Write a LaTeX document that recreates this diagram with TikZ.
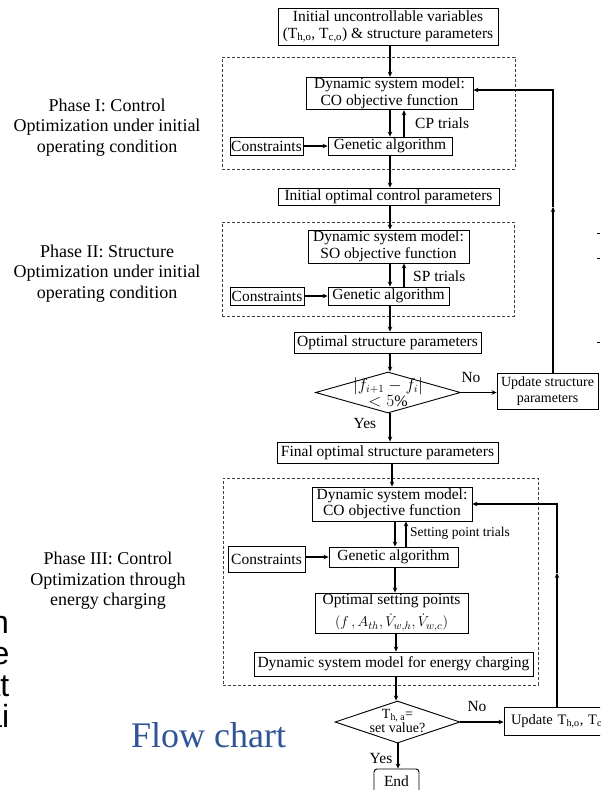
\documentclass[tikz,border=0pt]{standalone}
\usepackage{fontspec}
\setmainfont{Liberation Serif}
\newfontfamily\fragfont{Liberation Sans}
\usetikzlibrary{shapes.geometric,arrows.meta}
\definecolor{titleblue}{HTML}{2F5597}
\begin{document}
\begin{tikzpicture}[x=1pt,y=-1pt,
  box/.style={draw,line width=0.9pt,inner sep=1pt,align=center,font=\fontsize{15.5}{16.5}\selectfont},
  smallbox/.style={box,font=\fontsize{14}{15.5}\selectfont},
  phasebox/.style={draw=black!75,line width=0.8pt,dash pattern=on 3pt off 2pt,inner sep=0pt},
  arr/.style={line width=1.1pt,-{Stealth[length=5pt,width=4.5pt]}},
  lbl/.style={font=\fontsize{15.5}{16.5}\selectfont,inner sep=0pt},
  phaselbl/.style={align=center,font=\fontsize{18}{20.5}\selectfont,inner sep=0pt},
  dia/.style={draw,diamond,line width=0.9pt,inner sep=0pt},
  frag/.style={font=\fragfont\fontsize{32}{32}\selectfont,inner sep=0pt,anchor=base east}]
\useasboundingbox (0,0) rectangle (600,790);
\fill[white] (0,0) rectangle (600,790);
\clip (0,0) rectangle (600,790);

% columns
\coordinate (colA) at (390,0);
\coordinate (colU) at (404,0);
\coordinate (colB) at (395,0);
\coordinate (colC) at (406,0);
\coordinate (colD) at (398,0);
\coordinate (colR1) at (553,0);
\coordinate (colR2) at (557,0);

% phase frames
\node[phasebox,minimum width=293,minimum height=112] (ph1) at (368.5,113) {};
\node[phasebox,minimum width=292,minimum height=94] (ph2) at (368,269) {};
\node[phasebox,minimum width=315,minimum height=207] (ph3) at (380.5,581.5) {};

% phase labels
\node[phaselbl] (ph1l) at (107,127.5) {Phase I: Control\\Optimization under initial\\operating condition};
\node[phaselbl] (ph2l) at (107,273.5) {Phase II: Structure\\Optimization under initial\\operating condition};
\node[phaselbl] (ph3l) at (108,581) {Phase III: Control\\Optimization through\\energy charging};

% Phase I
\node[box,minimum width=220,minimum height=37] (init) at (388,26.5) {Initial uncontrollable variables\\(T\textsubscript{h,o}, T\textsubscript{c,o}) \& structure parameters};
\node[box,minimum width=167,minimum height=29] (dsm1) at (389.5,93.5) {Dynamic system model:\\CO objective function};
\node[box,minimum width=124,minimum height=18] (ga1) at (390,146) {Genetic algorithm};
\node[box,minimum width=73,minimum height=18] (con1) at (266.5,146) {Constraints};
\node[box,minimum width=221,minimum height=17] (iocp) at (388.5,196.5) {Initial optimal control parameters};

% Phase II
\node[box,minimum width=161,minimum height=33] (dsm2) at (388.5,246.5) {Dynamic system model:\\SO objective function};
\node[box,minimum width=121,minimum height=18] (ga2) at (388.5,296) {Genetic algorithm};
\node[box,minimum width=74,minimum height=18] (con2) at (267,296) {Constraints};
\node[box,minimum width=187,minimum height=21] (osp) at (387.5,342.5) {Optimal structure parameters};
\node[dia,minimum width=145,minimum height=41] (dia1) at (388,392.5) {};
\node[lbl,align=center,font=\fontsize{16}{16}\selectfont] (dia1t) at (388,392) {$|f_{i+1}-f_i|$\\$<5\%$};
\node[smallbox,minimum width=101,minimum height=36] (usp) at (547.5,391) {Update structure\\parameters};
\node[box,minimum width=221,minimum height=21] (fosp) at (387.5,452.5) {Final optimal structure parameters};

% Phase III
\node[box,minimum width=160,minimum height=34] (dsm3) at (392,504) {Dynamic system model:\\CO objective function};
\node[box,minimum width=129,minimum height=20] (ga3) at (393.5,557) {Genetic algorithm};
\node[box,minimum width=77,minimum height=26] (con3) at (266.5,559.5) {Constraints};
\node[box,minimum width=153,minimum height=40,font=\fontsize{15.5}{22}\selectfont] (osp3) at (391.5,613) {Optimal setting points\\$(f\,,A_{th},\dot V_{w,h},\dot V_{w,c})$};
\node[box,minimum width=279,minimum height=24] (dsmec) at (393.5,664) {Dynamic system model for energy charging};
\node[dia,minimum width=125,minimum height=42] (dia2) at (397.5,722) {};
\node[lbl,align=center,font=\fontsize{14}{14.5}\selectfont] (dia2t) at (397.5,721) {T\textsubscript{h, a}=\\set value?};
\node[box,minimum width=140,minimum height=28,text width=126,align=left,font=\fontsize{14.5}{16}\selectfont] (upt) at (574,721) {Update T\textsubscript{h,o}, T\textsubscript{c,o}};
\node[box,rounded corners=3pt,minimum width=45,minimum height=24] (endn) at (396.5,781) {End};

% labels
\node[lbl,anchor=west] (cpl) at (415,123) {CP trials};
\node[lbl,anchor=west] (spl) at (413,276) {SP trials};
\node[lbl,anchor=west,font=\fontsize{13.5}{14}\selectfont] (stl) at (410,533) {Setting point trials};
\node[lbl] (no1) at (471,377) {No};
\node[lbl] (yes1) at (365,423) {Yes};
\node[lbl] (no2) at (477,706) {No};
\node[lbl] (yes2) at (381,758) {Yes};
\node[font=\fontsize{36}{36}\selectfont,text=titleblue,inner sep=0pt,anchor=base west] (title) at (131,747) {Flow chart};

% fragments at the left edge
\node[frag] (fr1) at (9,633) {n};
\node[frag] (fr2) at (9.5,664.5) {e};
\node[frag] (fr3) at (9.5,696) {at};
\node[frag] (fr4) at (9.5,727.5) {ai};

% marks at the right edge
\draw[line width=0.8pt] (597,233) -- (600,233);
\draw[line width=0.8pt] (597,258) -- (600,258);
\draw[line width=0.8pt] (597,342) -- (600,342);

% Phase I connectors
\draw[arr] (init.south -| colA) -- (dsm1.north -| colA);
\draw[arr] (dsm1.south -| colA) -- (ga1.north -| colA);
\draw[arr] (ga1.north -| colU) -- (dsm1.south -| colU);
\draw[arr] (con1.east) -- (ga1.west);
\draw[arr] (ga1.south -| colA) -- (iocp.north -| colA);

% Phase II connectors
\draw[arr] (iocp.south -| colA) -- (dsm2.north -| colA);
\draw[arr] (dsm2.south -| colA) -- (ga2.north -| colA);
\draw[arr] (ga2.north -| colU) -- (dsm2.south -| colU);
\draw[arr] (con2.east) -- (ga2.west);
\draw[arr] (ga2.south -| colA) -- (osp.north -| colA);
\draw[arr] (osp.south -| colA) -- (dia1.north -| colA);
\draw[arr] (dia1.east) -- (usp.west |- dia1.east);
\draw[arr] (dia1.south -| colA) -- (fosp.north -| colA);
\coordinate (m1) at (553,207);
\coordinate (c1) at (553,90);
\draw[arr] (usp.north -| colR1) -- (m1);
\draw[arr] (m1) -- (c1) -- (dsm1.east |- c1);

% Phase III connectors
\coordinate (colF) at (392,0);
\draw[arr] (fosp.south -| colF) -- (dsm3.north -| colF);
\draw[arr] (dsm3.south -| colB) -- (ga3.north -| colB);
\draw[arr] (ga3.north -| colC) -- (dsm3.south -| colC);
\draw[arr] (con3.east |- ga3.west) -- (ga3.west);
\draw[arr] (ga3.south -| colB) -- (osp3.north -| colB);
\coordinate (colE) at (396,0);
\draw[arr] (osp3.south -| colE) -- (dsmec.north -| colE);
\draw[arr] (dsmec.south -| colE) -- (dia2.north -| colE);
\draw[arr] (dia2.east) -- (upt.west |- dia2.east);
\draw[arr] (dia2.south -| colD) -- (endn.north -| colD);
\coordinate (m2) at (557,573);
\coordinate (c2) at (557,504);
\draw[arr] (upt.north -| colR2) -- (m2);
\draw[arr] (m2) -- (c2) -- (dsm3.east |- c2);
\end{tikzpicture}
\end{document}
